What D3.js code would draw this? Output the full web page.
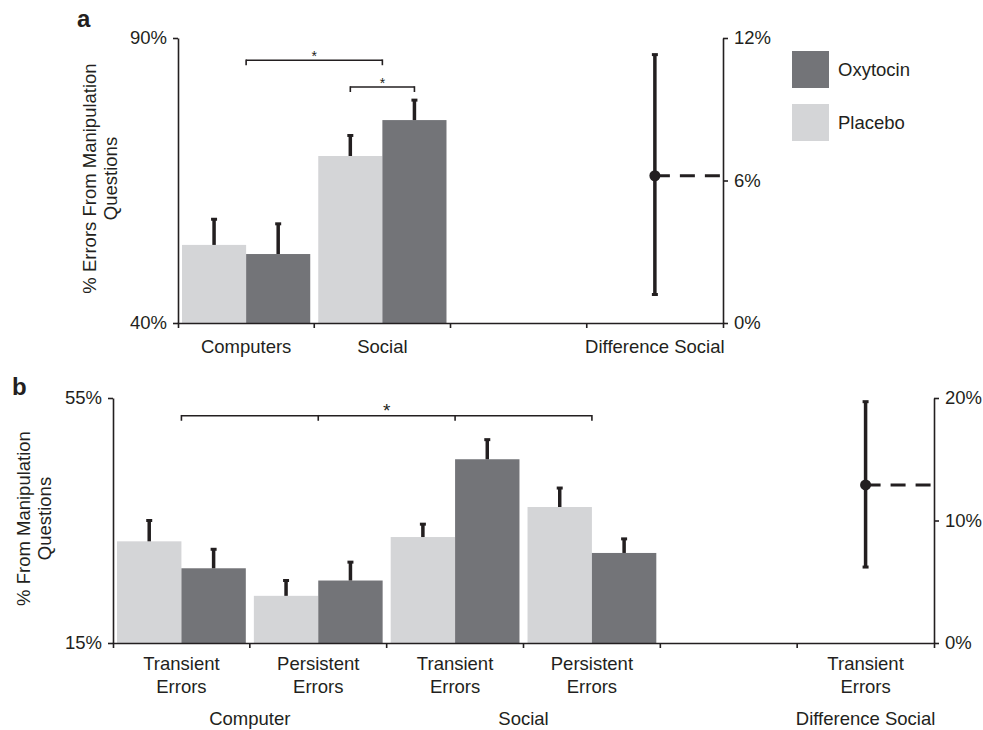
<!DOCTYPE html>
<html>
<head>
<meta charset="utf-8">
<script src="https://cdn.jsdelivr.net/npm/d3@7"></script>
<style>
  body { margin: 0; background: #fff; }
  svg { display: block; font-family: "Liberation Sans", Arial, sans-serif; }
</style>
</head>
<body>
<svg id="chart" width="983" height="730"></svg>
<script>
// ---- panel a data ----
const groupsA = ["Computers", "Social", "gap", "Difference Social"];
const placeboA = [53.7, 69.3];
const placeboErrA = [4.5, 3.6];
const oxytocinA = [52.1, 75.6];
const oxytocinErrA = [5.3, 3.5];
const diffA = { mean: 6.2, lo: 1.2, hi: 11.3 };
const yTicksA = [40, 90];
const y2TicksA = [0, 6, 12];
const sigA = [
  { ends: ["Computers", "Social"], cond: ["mid", "mid"], level: 86.1 },
  { ends: ["Social", "Social"], cond: ["Placebo", "Oxytocin"], level: 81.4 }
];

// ---- panel b data ----
const groupsB = ["ct", "cp", "st", "sp", "gap", "dt"];
const labelsB = ["Transient Errors", "Persistent Errors", "Transient Errors", "Persistent Errors", "", "Transient Errors"];
const placeboB = [31.6, 22.7, 32.3, 37.2];
const placeboErrB = [3.4, 2.5, 2.1, 3.1];
const oxytocinB = [27.2, 25.2, 45.0, 29.7];
const oxytocinErrB = [3.1, 3.0, 3.2, 2.3];
const diffB = { mean: 12.9, lo: 6.2, hi: 19.7 };
const yTicksB = [15, 55];
const y2TicksB = [0, 10, 20];
const superB = [
  { label: "Computer", span: ["ct", "cp"] },
  { label: "Social", span: ["st", "sp"] },
  { label: "Difference Social", span: ["dt", "dt"] }
];
const sigB = [
  { ends: ["ct", "cp", "st", "sp"], cond: ["mid", "mid", "mid", "mid"], level: 52.1 }
];

const legendItems = ["Oxytocin", "Placebo"];
const colors = { Placebo: "#d4d5d7", Oxytocin: "#737478" };
const ink = "#231f20";
const fs = 18.5;

const svg = d3.select("#chart");

function drawPanel(p) {
  const g = svg.append("g");

  const x = d3.scaleBand().domain(p.groups).range([p.left, p.right]);
  const xs = d3.scaleBand()
    .domain(["Placebo", "Oxytocin"])
    .range([0, x.bandwidth()])
    .paddingOuter(0.0625);
  const y = d3.scaleLinear().domain(p.yDomain).range([p.bottom, p.top]);
  const y2 = d3.scaleLinear().domain(p.y2Domain).range([p.bottom, p.top]);

  const bars = [];
  p.placebo.forEach((v, i) => {
    bars.push({ grp: p.groups[i], cond: "Placebo", v: v, e: p.placeboErr[i] });
    bars.push({ grp: p.groups[i], cond: "Oxytocin", v: p.oxytocin[i], e: p.oxytocinErr[i] });
  });

  const xPos = (grp, cond) =>
    cond === "mid"
      ? x(grp) + x.bandwidth() / 2
      : x(grp) + xs(cond) + xs.bandwidth() / 2;

  // bars
  g.selectAll(".bar")
    .data(bars)
    .join("rect")
    .attr("class", "bar")
    .attr("x", (d) => x(d.grp) + xs(d.cond))
    .attr("y", (d) => y(d.v))
    .attr("width", xs.bandwidth())
    .attr("height", (d) => y(p.yDomain[0]) - y(d.v))
    .attr("fill", (d) => colors[d.cond]);

  // error bars (upper only)
  g.selectAll(".err")
    .data(bars)
    .join("line")
    .attr("class", "err")
    .attr("x1", (d) => xPos(d.grp, d.cond))
    .attr("x2", (d) => xPos(d.grp, d.cond))
    .attr("y1", (d) => y(d.v))
    .attr("y2", (d) => y(d.v + d.e))
    .attr("stroke", ink)
    .attr("stroke-width", 3.5);
  g.selectAll(".cap")
    .data(bars)
    .join("line")
    .attr("class", "cap")
    .attr("x1", (d) => xPos(d.grp, d.cond) - 3)
    .attr("x2", (d) => xPos(d.grp, d.cond) + 3)
    .attr("y1", (d) => y(d.v + d.e))
    .attr("y2", (d) => y(d.v + d.e))
    .attr("stroke", ink)
    .attr("stroke-width", 3);

  // left axis
  const yAxis = g.append("g")
    .attr("transform", `translate(${p.left},0)`)
    .call(d3.axisLeft(y).tickValues(p.yTicks).tickSize(5).tickSizeOuter(0)
      .tickPadding(6).tickFormat((d) => d + "%"));
  // right axis
  const y2Axis = g.append("g")
    .attr("transform", `translate(${p.right},0)`)
    .call(d3.axisRight(y2).tickValues(p.y2Ticks).tickSize(5).tickSizeOuter(0)
      .tickPadding(6).tickFormat((d) => d + "%"));
  // bottom axis: ticks at band boundaries
  const xAxis = g.append("g")
    .attr("transform", `translate(0,${p.bottom})`)
    .call(d3.axisBottom(x).tickSize(0).tickSizeOuter(5).tickFormat(""));
  xAxis.selectAll(".bound")
    .data(p.groups.slice(1))
    .join("line")
    .attr("class", "bound")
    .attr("x1", (d) => x(d))
    .attr("x2", (d) => x(d))
    .attr("y1", 0)
    .attr("y2", 5);

  [yAxis, y2Axis, xAxis].forEach((a) => {
    a.selectAll("path, line").attr("stroke", ink).attr("stroke-width", 1.6);
    a.selectAll("text").attr("fill", ink).attr("font-size", fs)
      .attr("font-family", "Liberation Sans, Arial, sans-serif");
  });

  // category labels
  const cats = p.groups.map((grp, i) => ({ grp, label: p.labels[i] })).filter((d) => d.label);
  const catText = g.selectAll(".cat")
    .data(cats)
    .join("text")
    .attr("class", "cat")
    .attr("text-anchor", "middle")
    .attr("font-size", fs)
    .attr("fill", ink)
    .attr("y", p.bottom + p.labelOffset);
  catText.each(function (d) {
    const words = p.splitLabels ? d.label.split(" ") : [d.label];
    d3.select(this).selectAll("tspan")
      .data(words)
      .join("tspan")
      .attr("x", x(d.grp) + x.bandwidth() / 2)
      .attr("dy", (w, j) => (j === 0 ? 0 : 23))
      .text((w) => w);
  });

  // super labels
  if (p.supers) {
    g.selectAll(".super")
      .data(p.supers)
      .join("text")
      .attr("class", "super")
      .attr("text-anchor", "middle")
      .attr("font-size", fs)
      .attr("fill", ink)
      .attr("x", (d) => (x(d.span[0]) + x(d.span[1]) + x.bandwidth()) / 2)
      .attr("y", p.bottom + p.superOffset)
      .text((d) => d.label);
  }

  // significance brackets
  p.sig.forEach((s) => {
    const xsPts = s.ends.map((grp, i) => xPos(grp, s.cond[i]));
    const yl = y(s.level);
    g.append("line")
      .attr("x1", xsPts[0]).attr("x2", xsPts[xsPts.length - 1])
      .attr("y1", yl).attr("y2", yl)
      .attr("stroke", ink).attr("stroke-width", 1.6);
    g.selectAll(null)
      .data(xsPts)
      .join("line")
      .attr("x1", (d) => d).attr("x2", (d) => d)
      .attr("y1", yl - 0.8).attr("y2", yl + 5)
      .attr("stroke", ink).attr("stroke-width", 1.6);
    g.append("text")
      .attr("x", (xsPts[0] + xsPts[xsPts.length - 1]) / 2)
      .attr("y", yl + 1)
      .attr("text-anchor", "middle")
      .attr("font-size", p.starSize)
      .attr("fill", ink)
      .text("*");
  });

  // difference estimate with CI
  const dx = x(p.diffGroup) + x.bandwidth() / 2;
  g.append("line")
    .attr("x1", dx).attr("x2", p.right)
    .attr("y1", y2(p.diff.mean)).attr("y2", y2(p.diff.mean))
    .attr("stroke", ink).attr("stroke-width", 3)
    .attr("stroke-dasharray", "15,10");
  g.append("line")
    .attr("x1", dx).attr("x2", dx)
    .attr("y1", y2(p.diff.lo)).attr("y2", y2(p.diff.hi))
    .attr("stroke", ink).attr("stroke-width", 3.5);
  g.selectAll(".dcap")
    .data([p.diff.lo, p.diff.hi])
    .join("line")
    .attr("class", "dcap")
    .attr("x1", dx - 3).attr("x2", dx + 3)
    .attr("y1", (d) => y2(d)).attr("y2", (d) => y2(d))
    .attr("stroke", ink).attr("stroke-width", 3);
  g.append("circle")
    .attr("cx", dx).attr("cy", y2(p.diff.mean)).attr("r", 5.5)
    .attr("fill", ink);

  // y title
  g.append("text")
    .attr("transform", `translate(${p.titleX},${(p.top + p.bottom) / 2 - 2}) rotate(-90)`)
    .attr("text-anchor", "middle")
    .attr("font-size", fs)
    .attr("fill", ink)
    .selectAll("tspan")
    .data(p.title)
    .join("tspan")
    .attr("x", 0)
    .attr("dy", (d, i) => (i === 0 ? 0 : 21))
    .text((d) => d);

  // panel letter
  g.append("text")
    .attr("x", p.letterX).attr("y", p.letterY)
    .attr("font-size", 24).attr("font-weight", "bold")
    .attr("fill", ink)
    .text(p.letter);
}

drawPanel({
  letter: "a", letterX: 77, letterY: 27,
  groups: groupsA, labels: ["Computers", "Social", "", "Difference Social"],
  splitLabels: false, labelOffset: 30,
  placebo: placeboA, placeboErr: placeboErrA,
  oxytocin: oxytocinA, oxytocinErr: oxytocinErrA,
  diff: diffA, diffGroup: "Difference Social",
  yDomain: [40, 90], yTicks: yTicksA,
  y2Domain: [0, 12], y2Ticks: y2TicksA,
  sig: sigA, starSize: 14,
  left: 178, right: 723, top: 38, bottom: 323,
  title: ["% Errors From Manipulation", "Questions"], titleX: 96
});

drawPanel({
  letter: "b", letterX: 12, letterY: 395,
  groups: groupsB, labels: labelsB,
  splitLabels: true, labelOffset: 26.5,
  supers: superB, superOffset: 82,
  placebo: placeboB, placeboErr: placeboErrB,
  oxytocin: oxytocinB, oxytocinErr: oxytocinErrB,
  diff: diffB, diffGroup: "dt",
  yDomain: [15, 55], yTicks: yTicksB,
  y2Domain: [0, 20], y2Ticks: y2TicksB,
  sig: sigB, starSize: 19,
  left: 113, right: 934, top: 398, bottom: 643,
  title: ["% From Manipulation", "Questions"], titleX: 30
});

// legend
const legend = svg.append("g").attr("transform", "translate(792,51)");
const li = legend.selectAll("g")
  .data(legendItems)
  .join("g")
  .attr("transform", (d, i) => `translate(0,${i * 53})`);
li.append("rect")
  .attr("width", 37).attr("height", 37)
  .attr("fill", (d) => colors[d]);
li.append("text")
  .attr("x", 46).attr("y", 25)
  .attr("font-size", fs)
  .attr("fill", ink)
  .text((d) => d);
</script>
</body>
</html>
